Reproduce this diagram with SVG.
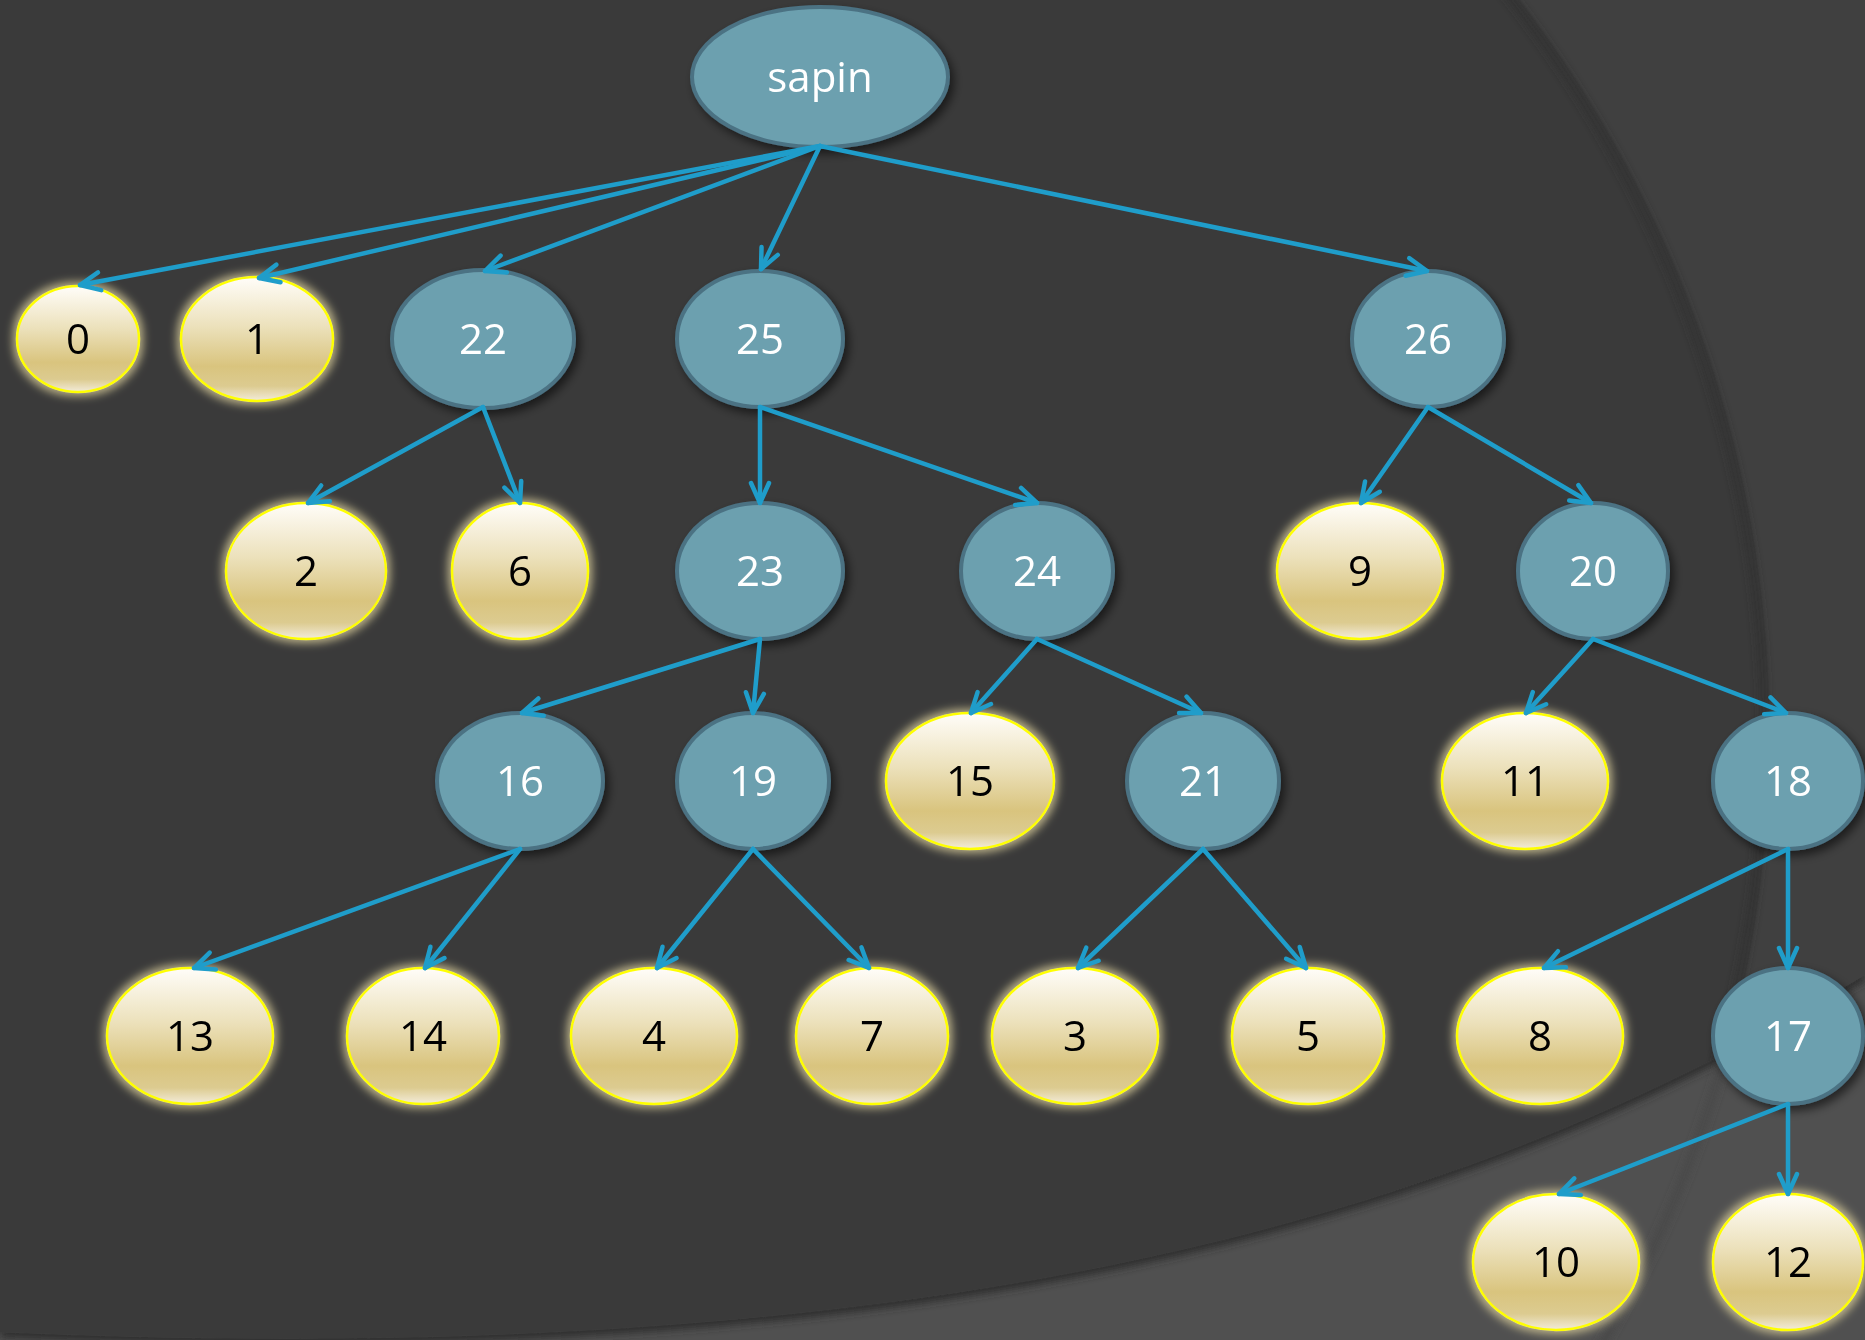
<svg xmlns="http://www.w3.org/2000/svg" width="1865" height="1340" viewBox="0 0 1865 1340">
<defs>
  <style>
    .teal ellipse { fill: #6ca0af; stroke: #4b7283; stroke-width: 4; }
    .yel ellipse { fill: url(#yg); stroke: #ffff00; stroke-width: 2.5; }
    .teal text { fill: #ffffff; }
    .yel text { fill: #000000; }
    text { font-family: "Open Sans", "Noto Sans", "DejaVu Sans", sans-serif; font-size: 42px; text-anchor: middle; }
    .teal { filter: url(#shadow); }
    .yel { filter: url(#glow); }
    #connectors line { stroke: #1f9dca; stroke-width: 4.5; stroke-linecap: round; marker-end: url(#arr); }
  </style>
  <linearGradient id="yg" x1="0" y1="0" x2="0" y2="1">
    <stop offset="0" stop-color="#fffdf9"/>
    <stop offset="0.4" stop-color="#ece1bb"/>
    <stop offset="0.72" stop-color="#d9c47e"/>
    <stop offset="0.88" stop-color="#dccb90"/>
    <stop offset="1" stop-color="#f3ecda"/>
  </linearGradient>
  <filter id="glow" x="-25%" y="-25%" width="150%" height="150%">
    <feMorphology in="SourceAlpha" operator="dilate" radius="3" result="d"/>
    <feGaussianBlur in="d" stdDeviation="4" result="b"/>
    <feFlood flood-color="#d6ca98" flood-opacity="0.8"/>
    <feComposite in2="b" operator="in" result="g"/>
    <feMerge><feMergeNode in="g"/><feMergeNode in="SourceGraphic"/></feMerge>
  </filter>
  <filter id="shadow" x="-25%" y="-25%" width="160%" height="160%">
    <feDropShadow dx="4" dy="5" stdDeviation="5" flood-color="#000000" flood-opacity="0.55"/>
  </filter>
  <filter id="soft" x="-5%" y="-5%" width="110%" height="110%">
    <feGaussianBlur stdDeviation="4"/>
  </filter>
  <marker id="arr" markerUnits="userSpaceOnUse" markerWidth="40" markerHeight="40" viewBox="-30 -20 40 40" refX="0" refY="0" orient="auto">
    <path d="M -20 -9 L 0 0 L -20 9" fill="none" stroke="#1f9dca" stroke-width="4.5" stroke-linecap="round" stroke-linejoin="round"/>
  </marker>
  <clipPath id="band"><path d="M 0 1332 C 1000 1375, 1500 1195, 1865 975 L 1865 1340 L 0 1340 Z"/></clipPath>
</defs>

<g id="background">
  <rect x="0" y="0" width="1865" height="1340" fill="#404040"/>
  <circle cx="565" cy="735" r="1205" fill="#3a3a3a"/>
  <circle cx="565" cy="735" r="1199" fill="none" stroke="#2f2f2f" stroke-width="6" filter="url(#soft)" opacity="0.8"/>
  <path d="M 0 1332 C 1000 1375, 1500 1195, 1865 975 L 1865 1340 L 0 1340 Z" fill="#505050"/>
  <g clip-path="url(#band)">
    <path d="M 0 1332 C 1000 1375, 1500 1195, 1865 975" fill="none" stroke="#2c2c2c" stroke-width="10" filter="url(#soft)"/>
    <circle cx="565" cy="735" r="1203" fill="none" stroke="#444444" stroke-width="5" filter="url(#soft)"/>
  </g>
</g>

<g id="nodes">
  <g id="node-sapin" class="teal"><ellipse cx="820" cy="77" rx="128" ry="70"/><text x="820" y="92">sapin</text></g>
  <g id="node-0" class="yel"><ellipse cx="78" cy="339" rx="61" ry="53"/><text x="78" y="354">0</text></g>
  <g id="node-1" class="yel"><ellipse cx="257" cy="339" rx="76" ry="62"/><text x="257" y="354">1</text></g>
  <g id="node-22" class="teal"><ellipse cx="483" cy="339" rx="91" ry="69"/><text x="483" y="354">22</text></g>
  <g id="node-25" class="teal"><ellipse cx="760" cy="339" rx="83" ry="68"/><text x="760" y="354">25</text></g>
  <g id="node-26" class="teal"><ellipse cx="1428" cy="339" rx="76" ry="68"/><text x="1428" y="354">26</text></g>
  <g id="node-2" class="yel"><ellipse cx="306" cy="571" rx="80" ry="68"/><text x="306" y="586">2</text></g>
  <g id="node-6" class="yel"><ellipse cx="520" cy="571" rx="68" ry="68"/><text x="520" y="586">6</text></g>
  <g id="node-23" class="teal"><ellipse cx="760" cy="571" rx="83" ry="68"/><text x="760" y="586">23</text></g>
  <g id="node-24" class="teal"><ellipse cx="1037" cy="571" rx="76" ry="68"/><text x="1037" y="586">24</text></g>
  <g id="node-9" class="yel"><ellipse cx="1360" cy="571" rx="83" ry="68"/><text x="1360" y="586">9</text></g>
  <g id="node-20" class="teal"><ellipse cx="1593" cy="571" rx="75" ry="68"/><text x="1593" y="586">20</text></g>
  <g id="node-16" class="teal"><ellipse cx="520" cy="781" rx="83" ry="68"/><text x="520" y="796">16</text></g>
  <g id="node-19" class="teal"><ellipse cx="753" cy="781" rx="76" ry="68"/><text x="753" y="796">19</text></g>
  <g id="node-15" class="yel"><ellipse cx="970" cy="781" rx="84" ry="68"/><text x="970" y="796">15</text></g>
  <g id="node-21" class="teal"><ellipse cx="1203" cy="781" rx="76" ry="68"/><text x="1203" y="796">21</text></g>
  <g id="node-11" class="yel"><ellipse cx="1525" cy="781" rx="83" ry="68"/><text x="1525" y="796">11</text></g>
  <g id="node-18" class="teal"><ellipse cx="1788" cy="781" rx="75" ry="68"/><text x="1788" y="796">18</text></g>
  <g id="node-13" class="yel"><ellipse cx="190" cy="1036" rx="83" ry="68"/><text x="190" y="1051">13</text></g>
  <g id="node-14" class="yel"><ellipse cx="423" cy="1036" rx="76" ry="68"/><text x="423" y="1051">14</text></g>
  <g id="node-4" class="yel"><ellipse cx="654" cy="1036" rx="83" ry="68"/><text x="654" y="1051">4</text></g>
  <g id="node-7" class="yel"><ellipse cx="872" cy="1036" rx="76" ry="68"/><text x="872" y="1051">7</text></g>
  <g id="node-3" class="yel"><ellipse cx="1075" cy="1036" rx="83" ry="68"/><text x="1075" y="1051">3</text></g>
  <g id="node-5" class="yel"><ellipse cx="1308" cy="1036" rx="76" ry="68"/><text x="1308" y="1051">5</text></g>
  <g id="node-8" class="yel"><ellipse cx="1540" cy="1036" rx="83" ry="68"/><text x="1540" y="1051">8</text></g>
  <g id="node-17" class="teal"><ellipse cx="1788" cy="1036" rx="75" ry="68"/><text x="1788" y="1051">17</text></g>
  <g id="node-10" class="yel"><ellipse cx="1556" cy="1262" rx="83" ry="68"/><text x="1556" y="1277">10</text></g>
  <g id="node-12" class="yel"><ellipse cx="1788" cy="1262" rx="75" ry="68"/><text x="1788" y="1277">12</text></g>
</g>

<g id="connectors">
  <line x1="820" y1="146" x2="80" y2="285"/>
  <line x1="820" y1="146" x2="259" y2="278"/>
  <line x1="820" y1="146" x2="485" y2="271"/>
  <line x1="820" y1="146" x2="761" y2="269"/>
  <line x1="820" y1="146" x2="1427" y2="271"/>
  <line x1="483" y1="407" x2="308" y2="503"/>
  <line x1="483" y1="407" x2="520" y2="503"/>
  <line x1="760" y1="407" x2="760" y2="503"/>
  <line x1="760" y1="407" x2="1037" y2="503"/>
  <line x1="1428" y1="407" x2="1361" y2="503"/>
  <line x1="1428" y1="407" x2="1591" y2="503"/>
  <line x1="760" y1="639" x2="522" y2="713"/>
  <line x1="760" y1="639" x2="753" y2="713"/>
  <line x1="1037" y1="639" x2="971" y2="713"/>
  <line x1="1037" y1="639" x2="1201" y2="713"/>
  <line x1="1593" y1="639" x2="1526" y2="713"/>
  <line x1="1593" y1="639" x2="1786" y2="713"/>
  <line x1="520" y1="849" x2="194" y2="968"/>
  <line x1="520" y1="849" x2="425" y2="968"/>
  <line x1="753" y1="849" x2="657" y2="968"/>
  <line x1="753" y1="849" x2="869" y2="968"/>
  <line x1="1203" y1="849" x2="1078" y2="968"/>
  <line x1="1203" y1="849" x2="1306" y2="968"/>
  <line x1="1788" y1="849" x2="1544" y2="968"/>
  <line x1="1788" y1="849" x2="1788" y2="968"/>
  <line x1="1788" y1="1104" x2="1559" y2="1194"/>
  <line x1="1788" y1="1104" x2="1788" y2="1194"/>
</g>
</svg>
